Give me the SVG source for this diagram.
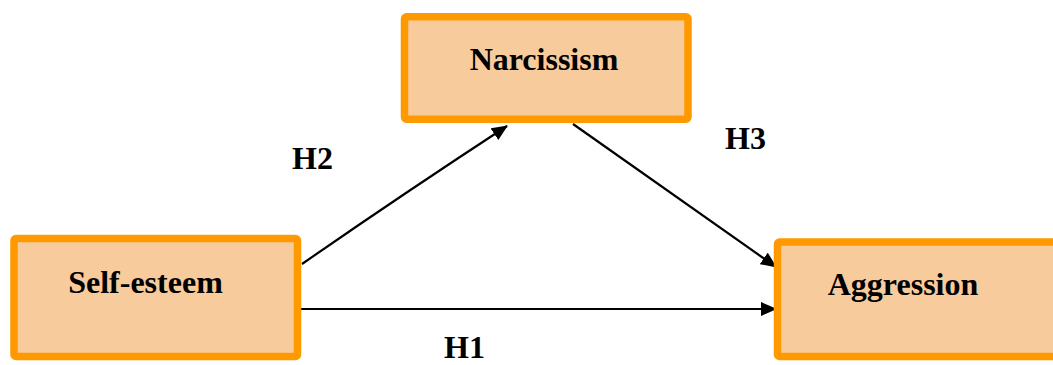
<svg xmlns="http://www.w3.org/2000/svg" width="1053" height="365" viewBox="0 0 1053 365">
<style>
.box{fill:#F8CB9C;stroke:#FF9900;stroke-width:7.5;stroke-linejoin:round}
.lbl{font-family:"Liberation Serif","Times New Roman",serif;font-weight:bold;font-size:32px;fill:#000}
.edge{stroke:#000;stroke-width:2.2;fill:none;marker-end:url(#ah)}
</style>
<defs>
<marker id="ah" viewBox="0 0 16 14" refX="15" refY="7" markerWidth="16" markerHeight="14" markerUnits="userSpaceOnUse" orient="auto">
<path d="M0,0 L16,7 L0,14 Z" fill="#000"/>
</marker>
</defs>
<rect width="1053" height="365" fill="#fff"/>
<g id="connectors">
<path class="edge" d="M302,264 Q400,196 507,126"/>
<path class="edge" d="M573,124 L776,267"/>
<path class="edge" d="M298,309 L776,309"/>
<text class="lbl" x="292" y="169">H2</text>
<text class="lbl" x="725" y="149">H3</text>
<text class="lbl" x="444" y="358">H1</text>
</g>
<g id="narcissism">
<rect class="box" x="404.5" y="16.8" width="283.5" height="102.4" rx="2"/>
<text class="lbl" x="544" y="70" text-anchor="middle">Narcissism</text>
</g>
<g id="self-esteem">
<rect class="box" x="14" y="238.5" width="283.5" height="118" rx="2"/>
<text class="lbl" x="145.5" y="293" text-anchor="middle">Self-esteem</text>
</g>
<g id="aggression">
<rect class="box" x="777.5" y="242" width="300" height="114.5" rx="2"/>
<text class="lbl" x="903" y="295" text-anchor="middle">Aggression</text>
</g>
</svg>
